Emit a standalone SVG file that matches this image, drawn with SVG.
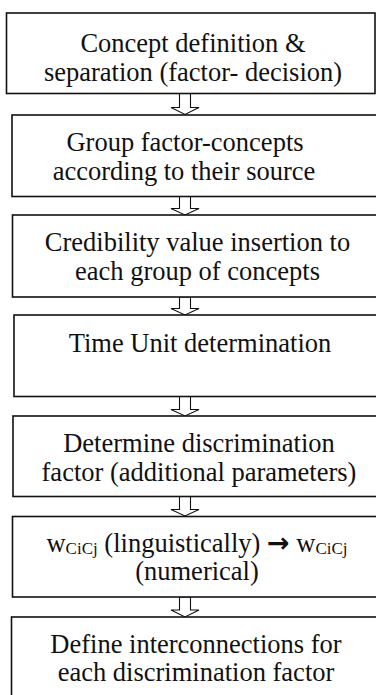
<svg xmlns="http://www.w3.org/2000/svg" width="376" height="695" viewBox="0 0 376 695">
<style>
.box{fill:#fff;stroke:#111;stroke-width:1.6}
.arr{fill:#fff;stroke:#111;stroke-width:1.1;stroke-linejoin:miter}
.t{font-family:"Liberation Serif","Times New Roman","DejaVu Serif",serif;font-size:26.5px;fill:#111;text-anchor:middle}
.sub{font-size:17px}
.sym{font-family:"DejaVu Sans",sans-serif;font-weight:bold;font-size:27px}
</style>
<rect width="376" height="695" fill="#fff"/>
<g id="connectors">
<path class="arr" d="M179.5,93.5 V107.5 H171 L185,114.5 L199,107.5 H190.5 V93.5 Z"/>
<path class="arr" d="M179.5,196.5 V208.5 H171 L185,215 L199,208.5 H190.5 V196.5 Z"/>
<path class="arr" d="M179.5,297 V308.5 H171 L185,315 L199,308.5 H190.5 V297 Z"/>
<path class="arr" d="M179.5,396.5 V409.5 H171 L185,416 L199,409.5 H190.5 V396.5 Z"/>
<path class="arr" d="M179.5,496.5 V509.5 H171 L185,516 L199,509.5 H190.5 V496.5 Z"/>
<path class="arr" d="M179.5,597 V610 H171 L185,617 L199,610 H190.5 V597 Z"/>
</g>
<g id="n1">
<rect class="box" x="6.5" y="13" width="368.5" height="80.5"/>
<text class="t" font-family="Liberation Serif, serif" x="193" y="52">Concept definition &amp;</text>
<text class="t" font-family="Liberation Serif, serif" x="193" y="81">separation (factor- decision)</text>
</g>
<g id="n2">
<rect class="box" x="12" y="115" width="370" height="81.5"/>
<text class="t" font-family="Liberation Serif, serif" x="185" y="151">Group factor-concepts</text>
<text class="t" font-family="Liberation Serif, serif" x="184" y="180">according to their source</text>
</g>
<g id="n3">
<rect class="box" x="12.5" y="215" width="370" height="82"/>
<text class="t" font-family="Liberation Serif, serif" x="197.5" y="251">Credibility value insertion to</text>
<text class="t" font-family="Liberation Serif, serif" x="197.5" y="280">each group of concepts</text>
</g>
<g id="n4">
<rect class="box" x="14" y="315" width="370" height="81.5"/>
<text class="t" font-family="Liberation Serif, serif" x="200" y="352">Time Unit determination</text>
</g>
<g id="n5">
<rect class="box" x="13" y="416" width="370" height="80.5"/>
<text class="t" font-family="Liberation Serif, serif" x="199" y="452">Determine discrimination</text>
<text class="t" font-family="Liberation Serif, serif" x="199" y="481">factor (additional parameters)</text>
</g>
<g id="n6">
<rect class="box" x="12.5" y="516.5" width="370" height="80.5"/>
<text class="t" font-family="Liberation Serif, serif" x="197" y="552">w<tspan class="sub" dy="2">CiCj</tspan><tspan dy="-2"> (linguistically) </tspan><tspan class="sym">→</tspan><tspan> w</tspan><tspan class="sub" dy="2">CiCj</tspan></text>
<text class="t" font-family="Liberation Serif, serif" x="197" y="580">(numerical)</text>
</g>
<g id="n7">
<rect class="box" x="11.5" y="617" width="370" height="90"/>
<text class="t" font-family="Liberation Serif, serif" x="196" y="653">Define interconnections for</text>
<text class="t" font-family="Liberation Serif, serif" x="196" y="681">each discrimination factor</text>
</g>
</svg>
